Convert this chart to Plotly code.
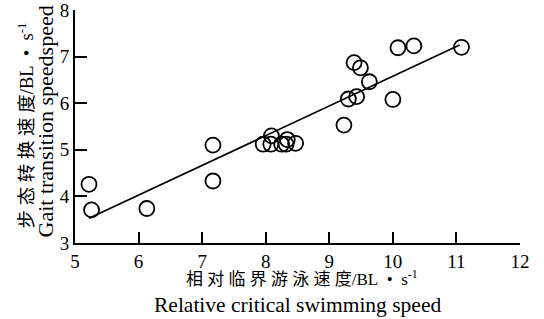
import plotly.graph_objects as go

# Data
rel_speed = [5.22, 5.26, 6.13, 7.17, 7.17, 7.96, 8.09, 8.08, 8.25, 8.34, 8.32, 8.47,
             9.23, 9.30, 9.39, 9.49, 9.43, 9.63, 10.00, 10.08, 10.33, 11.08]
gait_speed = [4.26, 3.71, 3.74, 5.10, 4.33, 5.12, 5.30, 5.12, 5.12, 5.22, 5.12, 5.14,
              5.53, 6.09, 6.87, 6.76, 6.14, 6.46, 6.08, 7.19, 7.23, 7.20]
fit_x = [5.22, 11.05]
fit_y = [3.53, 7.25]
x_ticks = [5, 6, 7, 8, 9, 10, 11, 12]
y_ticks = [3, 4, 5, 6, 7, 8]

FONT = "Liberation Serif, Times New Roman, Noto Sans CJK SC, serif"
NB = "\u00a0"

x_title_cn = " ".join("相对临界游泳速度") + "/BL" + NB * 2 + "•" + NB * 2 + "s<sup>-1</sup>"
y_title_cn = " ".join("步态转换速度") + "/BL" + NB * 2 + "•" + NB * 2 + "s<sup>-1</sup>"

fig = go.Figure()
fig.add_trace(go.Scatter(x=fit_x, y=fit_y, mode="lines",
                         line=dict(color="black", width=1.8), showlegend=False))
fig.add_trace(go.Scatter(x=rel_speed, y=gait_speed, mode="markers",
                         marker=dict(symbol="circle-open", size=15,
                                     color="black", line=dict(width=1.8)),
                         showlegend=False))

fig.update_layout(
    width=544, height=319,
    margin=dict(l=75, r=24, t=10, b=76),
    paper_bgcolor="white", plot_bgcolor="white",
    font=dict(family=FONT, color="black", size=17),
    xaxis=dict(range=[5, 12], tickvals=x_ticks, ticks="inside", ticklen=11,
               tickwidth=2, tickcolor="black", showline=True, linecolor="black",
               linewidth=2, showgrid=False, zeroline=False, automargin=False,
               ticklabeloverflow="allow",
               tickfont=dict(size=19, family=FONT)),
    yaxis=dict(range=[3, 8], tickvals=y_ticks, ticks="inside", ticklen=12,
               tickwidth=2, tickcolor="black", showline=True, linecolor="black",
               linewidth=2, showgrid=False, zeroline=False, automargin=False,
               ticklabeloverflow="allow",
               tickfont=dict(size=19, family=FONT)),
    annotations=[
        dict(text=x_title_cn, xref="paper", yref="paper",
             x=0.51, y=-0.152, xanchor="center", yanchor="middle", showarrow=False,
             font=dict(size=17, family=FONT)),
        dict(text="Relative critical swimming speed", xref="paper", yref="paper",
             x=0.50, y=-0.266, xanchor="center", yanchor="middle", showarrow=False,
             font=dict(size=21.5, family=FONT)),
        dict(text=y_title_cn, xref="paper", yref="paper",
             x=-0.11, y=0.505, xanchor="center", yanchor="middle", showarrow=False,
             textangle=-90, font=dict(size=18.5, family=FONT)),
        dict(text="Gait transition speedspeed", xref="paper", yref="paper",
             x=-0.066, y=0.52, xanchor="center", yanchor="middle", showarrow=False,
             textangle=-90, font=dict(size=22, family=FONT)),
    ],
)

fig.write_html("out.html", config={"displayModeBar": False},
               post_script="document.body.style.margin='0';document.body.style.overflow='hidden';")
